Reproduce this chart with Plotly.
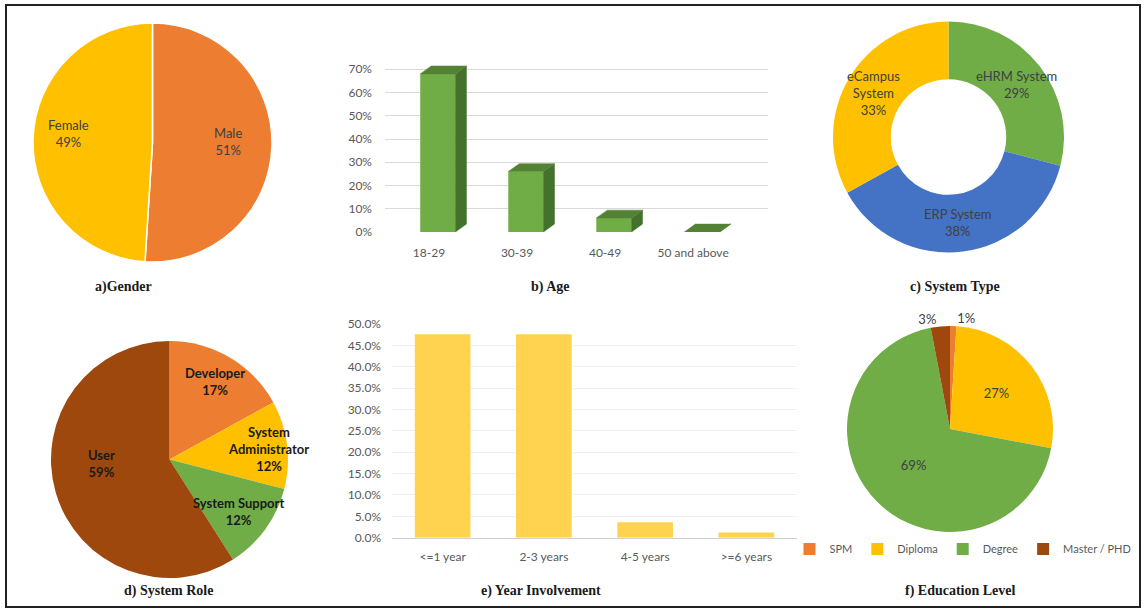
import plotly.graph_objects as go

W, H = 1144, 610


def fx(p):
    return p / W


def fy(p):
    return 1 - p / H


# ---------------- data ----------------
gender_labels = ["Male", "Female"]
gender_values = [51, 49]

age_categories = ["18-29", "30-39", "40-49", "50 and above"]
age_values = [68, 26, 6, 0]
age_tick_values = [0, 10, 20, 30, 40, 50, 60, 70, 80]
age_tick_labels = ["0%", "10%", "20%", "30%", "40%", "50%", "60%", "70%", ""]

system_type_labels = ["eHRM System", "ERP System", "eCampus System"]
system_type_text = ["eHRM System", "ERP System", "eCampus<br>System"]
system_type_values = [29, 38, 33]

role_labels = ["Developer", "System Administrator", "System Support", "User"]
role_text = ["Developer", "System<br>Administrator", "System Support", "User"]
role_values = [17, 12, 12, 59]

year_categories = ["<=1 year", "2-3 years", "4-5 years", ">=6 years"]
year_values = [47.6, 47.6, 3.6, 1.2]

edu_labels = ["SPM", "Diploma", "Degree", "Master / PHD"]
edu_values = [1, 27, 69, 3]

panel_titles = ["a)Gender", "b) Age", "c) System Type",
                "d) System Role", "e) Year Involvement", "f) Education Level"]

# ---------------- label placement (pixels, layout only) ----------------
gender_label_pos = [(228, 141), (68, 134)]
system_type_label_pos = [(1016, 84), (958, 222), (873, 93)]
role_label_pos = [(215, 381), (268, 449), (238, 511), (101, 463)]
title_pos = [(124, 287), (550, 287), (955, 287), (168, 591), (541, 591), (960, 591)]

# ---------------- styles ----------------
FONT = "Lato"
TXT = "#404040"
ORANGE, YELLOW, GREEN, BLUE, BROWN = "#ED7D31", "#FFC000", "#70AD47", "#4472C4", "#9E480E"

fig = go.Figure()

# a) Gender
fig.add_trace(go.Pie(
    labels=gender_labels, values=gender_values, textinfo="none",
    marker=dict(colors=[ORANGE, YELLOW], line=dict(color="white", width=1.5)),
    sort=False, direction="clockwise", rotation=0, showlegend=False,
    domain=dict(x=[fx(33), fx(272)], y=[fy(262), fy(23)]),
    hoverinfo="label+percent",
))

# b) Age (3D-style columns)
bar_w = 0.4
bar_shift = 0.1
dx, dy = 0.125, 3.4
age_x = [i + bar_shift for i in range(len(age_values))]
fig.add_trace(go.Bar(
    x=age_x, y=age_values, width=bar_w, marker=dict(color=GREEN, line=dict(width=0)),
    xaxis="x", yaxis="y", showlegend=False, hoverinfo="y",
))
side_x, side_y, top_x, top_y = [], [], [], []
for xc, v in zip(age_x, age_values):
    l, r = xc - bar_w / 2, xc + bar_w / 2
    side_x += [r, r + dx, r + dx, r, r, None]
    side_y += [0, dy, v + dy, v, 0, None]
    top_x += [l, l + dx, r + dx, r, l, None]
    top_y += [v, v + dy, v + dy, v, v, None]
fig.add_trace(go.Scatter(x=side_x, y=side_y, fill="toself", mode="lines",
                         line=dict(width=0.5, color="#44712B"), fillcolor="#44712B",
                         xaxis="x", yaxis="y", showlegend=False, hoverinfo="skip"))
fig.add_trace(go.Scatter(x=top_x, y=top_y, fill="toself", mode="lines",
                         line=dict(width=0.5, color="#548235"), fillcolor="#548235",
                         xaxis="x", yaxis="y", showlegend=False, hoverinfo="skip"))

# c) System Type (doughnut)
fig.add_trace(go.Pie(
    labels=system_type_labels, values=system_type_values, textinfo="none", hole=0.5,
    marker=dict(colors=[GREEN, BLUE, YELLOW], line=dict(width=0)),
    sort=False, direction="clockwise", rotation=0, showlegend=False,
    domain=dict(x=[fx(833), fx(1064)], y=[fy(253), fy(21)]),
    hoverinfo="label+percent",
))

# d) System Role
fig.add_trace(go.Pie(
    labels=role_labels, values=role_values, textinfo="none",
    marker=dict(colors=[ORANGE, YELLOW, GREEN, BROWN], line=dict(width=0)),
    sort=False, direction="clockwise", rotation=0, showlegend=False,
    domain=dict(x=[fx(51), fx(288)], y=[fy(578), fy(341)]),
    hoverinfo="label+percent",
))

# e) Year Involvement
fig.add_trace(go.Bar(
    x=year_categories, y=year_values, marker=dict(color="#FFD34F", line=dict(width=0)),
    xaxis="x2", yaxis="y2", showlegend=False, hoverinfo="y",
))

# f) Education Level
fig.add_trace(go.Pie(
    labels=edu_labels, values=edu_values,
    texttemplate="%{value}%", textposition=["outside", "inside", "inside", "outside"],
    insidetextorientation="horizontal",
    marker=dict(colors=[ORANGE, YELLOW, GREEN, BROWN], line=dict(width=0)),
    sort=False, direction="clockwise", rotation=0, showlegend=True,
    textfont=dict(family=FONT, size=13, color=TXT),
    domain=dict(x=[fx(845), fx(1055)], y=[fy(532), fy(326)]),
    hoverinfo="label+percent",
))

axis_font = dict(family=FONT, size=12, color="#595959")

fig.update_layout(
    width=W, height=H, autosize=False,
    margin=dict(l=0, r=0, t=0, b=0, pad=0, autoexpand=False),
    paper_bgcolor="white", plot_bgcolor="rgba(0,0,0,0)",
    bargap=0.45,
    xaxis=dict(domain=[fx(385), fx(768)], range=[-0.5, 3.85], anchor="y",
               tickvals=list(range(len(age_categories))), ticktext=age_categories,
               showgrid=False, zeroline=False, showline=False, ticks="", automargin=False,
               tickfont=axis_font, ticklabelstandoff=12, fixedrange=True),
    yaxis=dict(domain=[fy(232), fy(46)], range=[0, 80], anchor="x",
               tickvals=age_tick_values, ticktext=age_tick_labels, automargin=False,
               showgrid=True, gridcolor="#D9D9D9", gridwidth=1, zeroline=False,
               showline=False, ticks="", tickfont=axis_font, ticklabelstandoff=12,
               fixedrange=True),
    xaxis2=dict(domain=[fx(392), fx(797)], anchor="y2", automargin=False,
                showgrid=False, zeroline=False, showline=True, linecolor="#D0D0D0",
                ticks="", tickfont=axis_font, ticklabelstandoff=8, fixedrange=True),
    yaxis2=dict(domain=[fy(537.7), fy(324)], range=[0, 50], anchor="x2",
                dtick=5, tickformat=".1f", ticksuffix="%", automargin=False,
                showgrid=True, gridcolor="#F0F0F0", zeroline=False, showline=False,
                ticks="", tickfont=axis_font, ticklabelstandoff=10, fixedrange=True),
    legend=dict(orientation="h", x=fx(963), xanchor="center", y=fy(549), yanchor="middle",
                font=dict(family=FONT, size=11, color="#595959"),
                itemwidth=30, traceorder="normal", bgcolor="rgba(0,0,0,0)"),
    shapes=[dict(type="rect", xref="paper", yref="paper",
                 x0=fx(6), x1=fx(1140), y0=fy(607), y1=fy(5),
                 line=dict(color="#222222", width=2))],
)


def add_labels(names, values, positions, bold=False, color=TXT):
    for name, v, (px, py) in zip(names, values, positions):
        txt = f"{name}<br>{v}%"
        if bold:
            txt = f"<b>{txt}</b>"
        fig.add_annotation(text=txt, x=fx(px), y=fy(py), xref="paper", yref="paper",
                           showarrow=False, xanchor="center", yanchor="middle",
                           font=dict(family=FONT, size=13, color=color))


add_labels(gender_labels, gender_values, gender_label_pos)
add_labels(system_type_text, system_type_values, system_type_label_pos)
add_labels(role_text, role_values, role_label_pos, bold=True, color="#1a1a1a")

for t, (px, py) in zip(panel_titles, title_pos):
    fig.add_annotation(text=f"<b>{t}</b>", x=fx(px), y=fy(py), xref="paper", yref="paper",
                       showarrow=False, xanchor="center", yanchor="middle",
                       font=dict(family="Liberation Serif", size=14, color="#1a1a1a"))

post = (
    "document.documentElement.style.margin='0';"
    "document.documentElement.style.padding='0';"
    "document.documentElement.style.overflow='hidden';"
    "document.body.style.margin='0';"
    "document.body.style.padding='0';"
    "document.body.style.overflow='hidden';"
    "var gd=document.getElementById('{plot_id}');"
    "gd.style.position='fixed';gd.style.top='0';gd.style.left='0';"
)
fig.write_html("out.html", config={"displayModeBar": False}, post_script=post)
